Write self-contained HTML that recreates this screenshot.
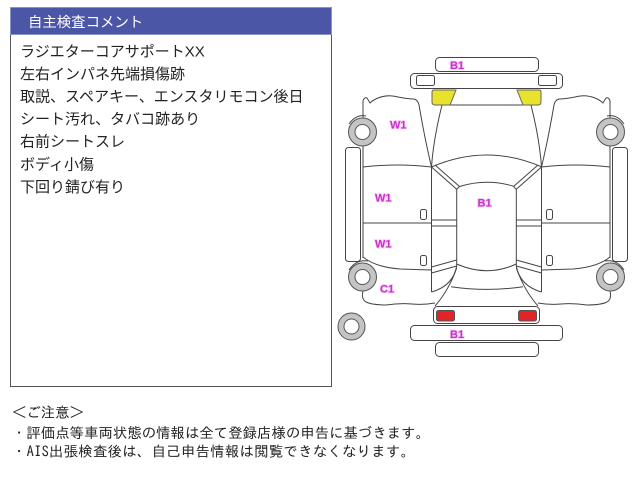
<!DOCTYPE html>
<html><head><meta charset="utf-8">
<style>
html,body{margin:0;padding:0;background:#fff;}
svg{display:block;}
.jp{font-family:"Liberation Sans","Noto Sans CJK JP",sans-serif;}
.gt{font-family:"IPAGothic","Liberation Sans","Noto Sans CJK JP",sans-serif;}
.lb{font-family:"Liberation Sans",sans-serif;font-weight:bold;font-size:11px;fill:#cc2fcc;stroke:#f3c8f3;stroke-width:1.6;paint-order:stroke;}
.ln path{fill:none;stroke:#444;stroke-width:1;}
</style></head>
<body>
<svg width="640" height="480" viewBox="0 0 640 480" xmlns="http://www.w3.org/2000/svg">
<rect x="0" y="0" width="640" height="480" fill="#fff"/>
<!-- comment box -->
<rect x="10.5" y="7.5" width="321" height="379" fill="#fff" stroke="#555" stroke-width="1"/>
<rect x="10.5" y="7.5" width="321" height="27" fill="#4b56a7" stroke="#8a92c9" stroke-width="1"/>
<text x="28" y="27.2" class="jp" font-size="14.4" fill="#fff">自主検査コメント</text>
<g class="jp" font-size="15" fill="#222">
<text x="20" y="56.3">ラジエターコアサポートXX</text>
<text x="20" y="78.9">左右インパネ先端損傷跡</text>
<text x="20" y="101.5">取説、スペアキー、エンスタリモコン後日</text>
<text x="20" y="124.1">シート汚れ、タバコ跡あり</text>
<text x="20" y="146.7">右前シートスレ</text>
<text x="20" y="169.3">ボディ小傷</text>
<text x="20" y="191.9">下回り錆び有り</text>
</g>
<!-- notes -->
<g class="gt" font-size="14.4" fill="#222">
<text x="12" y="417.5">＜ご注意＞</text>
<text x="12" y="438" textLength="418" lengthAdjust="spacing">・評価点等車両状態の情報は全て登録店様の申告に基づきます。</text>
<text x="12" y="456.5" textLength="403" lengthAdjust="spacing">・AIS出張検査後は、自己申告情報は閲覧できなくなります。</text>
</g>

<!-- car diagram -->
<g class="ln">
<path d="M450,105 L523,105"/>
<path d="M431.5,167 Q487,143 542,167"/>
<path d="M459.5,186.5 Q487,178 514.5,186.5"/>
<path d="M456.7,264 Q487,277.4 516.3,264"/>
<path d="M451,286.7 Q487,292 523,286.7"/>
</g>
<rect x="435.5" y="57.5" width="103" height="14" rx="4" fill="#fff" stroke="#444"/>
<rect x="410.5" y="73.5" width="152" height="15" rx="4" fill="#fff" stroke="#444"/>
<rect x="433.5" y="306.5" width="106" height="17" rx="4" fill="#fff" stroke="#444"/>
<rect x="410.5" y="325.5" width="152" height="15" rx="4" fill="#fff" stroke="#444"/>
<rect x="435.5" y="342.5" width="103" height="14" rx="4" fill="#fff" stroke="#444"/>
<!-- spare tire -->
<circle cx="351.5" cy="326.5" r="13.5" fill="#c4c4c4" stroke="#555"/>
<circle cx="351.5" cy="326.5" r="7.5" fill="#fff" stroke="#555"/>

<g>
<g class="ln">
<path d="M363,118 L363,101 Q364,97 367,98 L370,103 Q373,100 378,98 Q388,94 398,97 Q408,99 414,99 Q418,100 419,105 Q425,140 431.5,167"/>
<path d="M442,105 C437,125 433,145 431.5,167"/>
<path d="M363,146 L363,258"/>
<path d="M363,167 Q397,163 431.5,167"/>
<path d="M363,223 L431.5,223"/>
<path d="M431.5,167 L431.5,292"/>
<path d="M431.5,167 L456.7,189.3 M435,165 L459.5,186.5 M456.7,189.3 L459.5,186.5"/>
<path d="M456.7,189 L456.7,266"/>
<path d="M431.5,220 L456.7,220 M431.5,226 L456.7,226"/>
<path d="M431.5,267 L456.7,260 M431.5,273 L456.7,266"/>
<path d="M456.7,266 Q453,286 431.5,292"/>
<path d="M456.7,268 Q449,290 435,306"/>
<path d="M363,257 Q375,267 400,269 L431.5,270"/>
<path d="M363,291 Q361,299 366,302 Q372,305 386,305 Q400,303 412,304 Q424,305 435,303"/>
<path d="M349,124 Q356,114 366,116"/>
<path d="M349,270 Q356,259 368,261"/>
</g>
<rect x="416.5" y="75.5" width="18" height="10" rx="2" fill="#fff" stroke="#444"/>
<path d="M432,92 Q432,90 434,90 L456,90 L450,105 L435,105 Q432,105 432,102 Z" fill="#e8e22c" stroke="#666" stroke-width="1"/>
<rect x="345.5" y="147.5" width="15" height="114" rx="3" fill="#fff" stroke="#444"/>
<circle cx="362.5" cy="132" r="14" fill="#c4c4c4" stroke="#555"/>
<circle cx="362.5" cy="132" r="7.5" fill="#fff" stroke="#555"/>
<circle cx="362.5" cy="277" r="14" fill="#c4c4c4" stroke="#555"/>
<circle cx="362.5" cy="277" r="7.5" fill="#fff" stroke="#555"/>
<rect x="420.5" y="209.5" width="6" height="10" rx="2" fill="#fff" stroke="#444"/>
<rect x="420.5" y="255.5" width="6" height="10" rx="2" fill="#fff" stroke="#444"/>
<rect x="436.5" y="310.5" width="18" height="10.5" rx="2" fill="#e02428" stroke="#555"/>
</g>
<g transform="matrix(-1,0,0,1,973,0)">
<g class="ln">
<path d="M363,118 L363,101 Q364,97 367,98 L370,103 Q373,100 378,98 Q388,94 398,97 Q408,99 414,99 Q418,100 419,105 Q425,140 431.5,167"/>
<path d="M442,105 C437,125 433,145 431.5,167"/>
<path d="M363,146 L363,258"/>
<path d="M363,167 Q397,163 431.5,167"/>
<path d="M363,223 L431.5,223"/>
<path d="M431.5,167 L431.5,292"/>
<path d="M431.5,167 L456.7,189.3 M435,165 L459.5,186.5 M456.7,189.3 L459.5,186.5"/>
<path d="M456.7,189 L456.7,266"/>
<path d="M431.5,220 L456.7,220 M431.5,226 L456.7,226"/>
<path d="M431.5,267 L456.7,260 M431.5,273 L456.7,266"/>
<path d="M456.7,266 Q453,286 431.5,292"/>
<path d="M456.7,268 Q449,290 435,306"/>
<path d="M363,257 Q375,267 400,269 L431.5,270"/>
<path d="M363,291 Q361,299 366,302 Q372,305 386,305 Q400,303 412,304 Q424,305 435,303"/>
<path d="M349,124 Q356,114 366,116"/>
<path d="M349,270 Q356,259 368,261"/>
</g>
<rect x="416.5" y="75.5" width="18" height="10" rx="2" fill="#fff" stroke="#444"/>
<path d="M432,92 Q432,90 434,90 L456,90 L450,105 L435,105 Q432,105 432,102 Z" fill="#e8e22c" stroke="#666" stroke-width="1"/>
<rect x="345.5" y="147.5" width="15" height="114" rx="3" fill="#fff" stroke="#444"/>
<circle cx="362.5" cy="132" r="14" fill="#c4c4c4" stroke="#555"/>
<circle cx="362.5" cy="132" r="7.5" fill="#fff" stroke="#555"/>
<circle cx="362.5" cy="277" r="14" fill="#c4c4c4" stroke="#555"/>
<circle cx="362.5" cy="277" r="7.5" fill="#fff" stroke="#555"/>
<rect x="420.5" y="209.5" width="6" height="10" rx="2" fill="#fff" stroke="#444"/>
<rect x="420.5" y="255.5" width="6" height="10" rx="2" fill="#fff" stroke="#444"/>
<rect x="436.5" y="310.5" width="18" height="10.5" rx="2" fill="#e02428" stroke="#555"/>
</g>

<!-- labels -->
<text x="450" y="69" class="lb">B1</text>
<text x="390" y="128.5" class="lb">W1</text>
<text x="375" y="201.7" class="lb">W1</text>
<text x="375" y="247.3" class="lb">W1</text>
<text x="380" y="292.7" class="lb">C1</text>
<text x="477.5" y="206.5" class="lb">B1</text>
<text x="450" y="338" class="lb">B1</text>
</svg>
</body></html>
